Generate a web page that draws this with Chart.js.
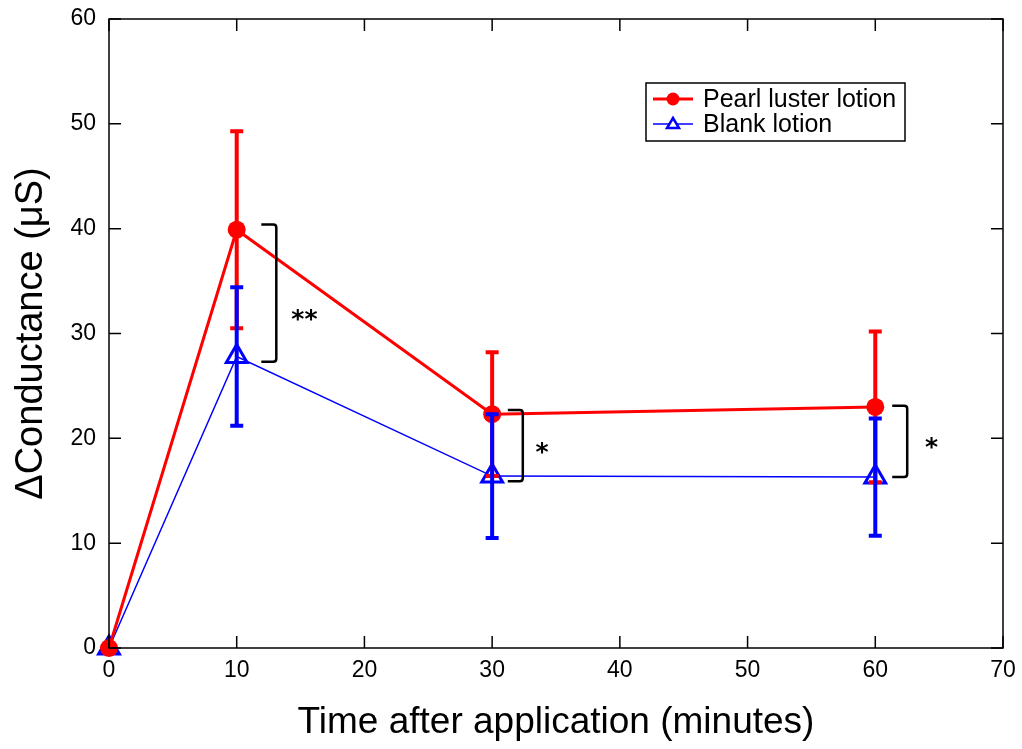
<!DOCTYPE html>
<html>
<head>
<meta charset="utf-8">
<script src="https://cdn.jsdelivr.net/npm/chart.js@4.4.1/dist/chart.umd.min.js"></script>
<style>
  html, body { margin: 0; padding: 0; background: #fff; }
  #wrap { width: 1022px; height: 749px; }
</style>
</head>
<body>
<div id="wrap"><canvas id="chart" width="1022" height="749"></canvas></div>
<script>
// data
const times = [0, 10, 30, 60];
const pearlMean = [0, 39.9, 22.3, 23.0];
const pearlErr = [0, 9.4, 5.9, 7.2];
const blankMean = [0, 27.8, 16.4, 16.3];
const blankErr = [0, 6.6, 5.9, 5.6];

// significance brackets: bracket x, top, bottom, label position and text
const sigX = [13.1, 32.4, 62.5];
const sigTop = [40.4, 22.7, 23.1];
const sigBottom = [27.3, 15.9, 16.3];
const sigLabelX = [15.3, 33.9, 64.4];
const sigLabelY = [31.8, 19.1, 19.6];
const sigLabels = ['**', '*', '*'];

const FONT = '"Liberation Sans", Arial, Helvetica, sans-serif';

function pts(xs, ys) {
    return xs.map((x, i) => ({ x: x, y: ys[i] }));
}

// error bars, drawn over the markers
const errorBars = {
    id: 'errorBars',
    afterDatasetsDraw(chart) {
        const ctx = chart.ctx;
        const xs = chart.scales.x, ys = chart.scales.y;
        const sets = [
            { mean: pearlMean, err: pearlErr, color: '#ff0000' },
            { mean: blankMean, err: blankErr, color: '#0000ff' }
        ];
        ctx.save();
        sets.forEach(s => {
            ctx.strokeStyle = s.color;
            ctx.lineWidth = 4;
            times.forEach((t, i) => {
                if (!s.err[i]) return;
                const px = xs.getPixelForValue(t);
                const top = ys.getPixelForValue(s.mean[i] + s.err[i]);
                const bot = ys.getPixelForValue(s.mean[i] - s.err[i]);
                ctx.beginPath();
                ctx.moveTo(px, top); ctx.lineTo(px, bot);
                ctx.moveTo(px - 6.5, top); ctx.lineTo(px + 6.5, top);
                ctx.moveTo(px - 6.5, bot); ctx.lineTo(px + 6.5, bot);
                ctx.stroke();
            });
        });
        ctx.restore();
    }
};

// frame with inward ticks on all four sides, brackets, legend box
const decorations = {
    id: 'decorations',
    afterDraw(chart) {
        const ctx = chart.ctx;
        const a = chart.chartArea;
        const xs = chart.scales.x, ys = chart.scales.y;
        ctx.save();
        ctx.strokeStyle = '#000';
        ctx.lineWidth = 1.5;
        ctx.strokeRect(a.left, a.top, a.right - a.left, a.bottom - a.top);
        const tl = 12;
        ctx.beginPath();
        xs.ticks.forEach(t => {
            const px = xs.getPixelForValue(t.value);
            ctx.moveTo(px, a.bottom); ctx.lineTo(px, a.bottom - tl);
            ctx.moveTo(px, a.top); ctx.lineTo(px, a.top + tl);
        });
        ys.ticks.forEach(t => {
            const py = ys.getPixelForValue(t.value);
            ctx.moveTo(a.left, py); ctx.lineTo(a.left + tl, py);
            ctx.moveTo(a.right, py); ctx.lineTo(a.right - tl, py);
        });
        ctx.stroke();

        // significance brackets
        ctx.lineWidth = 2.5;
        ctx.font = 'bold 25px "DejaVu Sans", sans-serif';
        ctx.fillStyle = '#000';
        ctx.textAlign = 'center';
        ctx.textBaseline = 'middle';
        sigX.forEach((sx, i) => {
            const px = xs.getPixelForValue(sx);
            const top = ys.getPixelForValue(sigTop[i]);
            const bot = ys.getPixelForValue(sigBottom[i]);
            ctx.beginPath();
            ctx.moveTo(px - 15, top);
            ctx.lineTo(px - 3, top);
            ctx.quadraticCurveTo(px, top, px, top + 3);
            ctx.lineTo(px, bot - 3);
            ctx.quadraticCurveTo(px, bot, px - 3, bot);
            ctx.lineTo(px - 15, bot);
            ctx.stroke();
            // asterisks sit high in the glyph box, so nudge them down
            ctx.fillText(sigLabels[i], xs.getPixelForValue(sigLabelX[i]),
                ys.getPixelForValue(sigLabelY[i]) + 6);
        });

        // legend
        const lx = 646, ly = 83, lw = 259, lh = 58;
        ctx.fillStyle = '#fff';
        ctx.fillRect(lx, ly, lw, lh);
        ctx.lineWidth = 1.5;
        ctx.strokeStyle = '#000';
        ctx.strokeRect(lx, ly, lw, lh);
        const rows = [
            { y: ly + 16, color: '#ff0000', width: 3, marker: 'circle' },
            { y: ly + 41, color: '#0000ff', width: 1.5, marker: 'triangle' }
        ];
        chart.data.datasets.forEach((ds, i) => {
            const r = rows[i];
            ctx.strokeStyle = r.color;
            ctx.lineWidth = r.width;
            ctx.beginPath();
            ctx.moveTo(lx + 7, r.y); ctx.lineTo(lx + 47, r.y);
            ctx.stroke();
            const cx = lx + 27;
            if (r.marker === 'circle') {
                ctx.fillStyle = r.color;
                ctx.beginPath();
                ctx.arc(cx, r.y, 6.5, 0, Math.PI * 2);
                ctx.fill();
            } else {
                ctx.lineWidth = 2.5;
                ctx.fillStyle = '#fff';
                ctx.beginPath();
                ctx.moveTo(cx, r.y - 6);
                ctx.lineTo(cx + 6, r.y + 4);
                ctx.lineTo(cx - 6, r.y + 4);
                ctx.closePath();
                ctx.fill();
                ctx.stroke();
            }
            ctx.fillStyle = '#000';
            ctx.font = '25px ' + FONT;
            ctx.textAlign = 'left';
            ctx.textBaseline = 'middle';
            ctx.fillText(ds.label, lx + 57, r.y + 1);
        });
        ctx.restore();
    }
};

new Chart(document.getElementById('chart'), {
    type: 'line',
    data: {
        datasets: [
            {
                label: 'Pearl luster lotion',
                data: pts(times, pearlMean),
                borderColor: '#ff0000',
                backgroundColor: '#ff0000',
                borderWidth: 3,
                pointStyle: 'circle',
                pointRadius: 9,
                pointBorderWidth: 0,
                pointBackgroundColor: '#ff0000',
                tension: 0
            },
            {
                label: 'Blank lotion',
                data: pts(times, blankMean),
                borderColor: '#0000ff',
                backgroundColor: 'rgba(255,255,255,0)',
                borderWidth: 1.5,
                pointStyle: 'triangle',
                pointRadius: 12,
                pointBorderWidth: 3,
                pointBorderColor: '#0000ff',
                pointBackgroundColor: 'rgba(255,255,255,0)',
                tension: 0
            }
        ]
    },
    options: {
        responsive: false,
        animation: false,
        clip: false,
        layout: { padding: { top: 19, right: 19, left: 0, bottom: 0 } },
        plugins: {
            legend: { display: false },
            tooltip: { enabled: false }
        },
        scales: {
            x: {
                type: 'linear',
                min: 0, max: 70,
                grid: { display: false },
                border: { display: false },
                ticks: {
                    stepSize: 10, color: '#000', padding: 1,
                    font: { family: FONT, size: 23 }
                },
                title: {
                    display: true, text: 'Time after application (minutes)', color: '#000',
                    font: { family: FONT, size: 37 }, padding: { top: 8 }
                },
                afterFit(scale) { scale.height = 101; }
            },
            y: {
                min: 0, max: 60,
                grid: { display: false },
                border: { display: false },
                ticks: {
                    stepSize: 10, color: '#000', padding: 5,
                    font: { family: FONT, size: 23 }
                },
                title: {
                    display: true, text: 'ΔConductance (μS)', color: '#000',
                    font: { family: FONT, size: 38 }, padding: { top: 9 }
                },
                afterFit(scale) { scale.width = 109; }
            }
        }
    },
    plugins: [errorBars, decorations]
});
</script>
</body>
</html>
